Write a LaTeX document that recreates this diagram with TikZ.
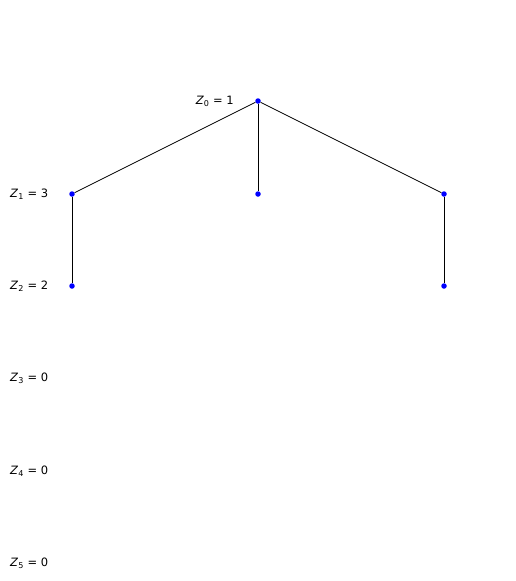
\documentclass[tikz,border=0pt]{standalone}
\usepackage{fontspec}
\setmainfont{DejaVu Sans}
\usepackage{tikz}
\usetikzlibrary{positioning}
\newcommand{\zlab}[2]{\textit{Z}\textsubscript{#1} = #2}

\begin{document}
\begin{tikzpicture}[x=1pt, y=-1pt,
    vert/.style={circle, fill=blue, inner sep=0pt, minimum size=5.5pt},
    edge/.style={black, line width=0.7pt},
    lvl/.style={anchor=west, font=\fontsize{11.5}{13}\selectfont, inner sep=0pt}]
  \useasboundingbox (0,0) rectangle (515,581);

  % Tree vertices
  \node[vert] (r)  at (258,101) {};
  \node[vert] (a)  at (72,194)  {};
  \node[vert] (b)  at (258,194) {};
  \node[vert] (c)  at (444,194) {};
  \node[vert] (aa) at (72,286)  {};
  \node[vert] (cc) at (444,286) {};

  % Edges
  \draw[edge] (r) -- (a);
  \draw[edge] (r) -- (b);
  \draw[edge] (r) -- (c);
  \draw[edge] (a) -- (aa);
  \draw[edge] (c) -- (cc);

  % Generation sizes
  \node[lvl, anchor=east] (z0) at (234,101) {\zlab{0}{1}};
  \foreach \k/\v/\y in {1/3/194, 2/2/286, 3/0/378, 4/0/471, 5/0/563} {
    \node[lvl] (z\k) at (10,\y) {\zlab{\k}{\v}};
  }
\end{tikzpicture}
\end{document}
